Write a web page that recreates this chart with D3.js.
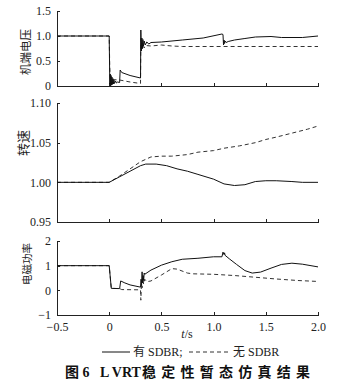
<!DOCTYPE html>
<html>
<head>
<meta charset="utf-8">
<script src="https://cdn.jsdelivr.net/npm/d3@7"></script>
<style>
  body { margin: 0; background: #fff; }
  svg { display: block; }
  .axis path, .axis line { stroke: #222; shape-rendering: crispEdges; }
  .axis text { font-family: "Liberation Serif", "Times New Roman", serif; font-size: 12px; fill: #222; }
  .cjk { font-family: "Noto Sans CJK SC", sans-serif; fill: #222; }
</style>
</head>
<body>
<svg id="chart" width="350" height="392"></svg>
<script>
"use strict";

// x-axis (time, s)
const xTicks = [ -0.5, 0, 0.5, 1.0, 1.5, 2.0 ];

// panel titles
const panelLabels = [ '机端电压', '转速', '电磁功率' ];

// y ticks per panel
const voltTicks  = [ 0, 0.5, 1.0, 1.5 ];
const speedTicks = [ 0.95, 1.00, 1.05, 1.10 ];
const powerTicks = [ -1, 0, 1, 2 ];

// legend
const seriesNames = [ '有 SDBR', '无 SDBR' ];

// terminal voltage [t, value]
const voltSolid = [
  [-0.5,1.0],[0,1.0],[0.003,0.5],[0.006,0.04],[0.01,0.24],[0.014,0.0],[0.018,0.21],[0.022,0.02],
  [0.026,0.18],[0.03,0.03],[0.035,0.15],[0.04,0.04],[0.045,0.12],[0.05,0.05],[0.06,0.1],[0.07,0.06],
  [0.08,0.08],[0.1,0.07],[0.105,0.32],[0.12,0.27],[0.2,0.21],[0.3,0.16],[0.303,1.12],[0.308,0.7],
  [0.313,0.96],[0.318,0.76],[0.323,0.93],[0.328,0.8],[0.335,0.9],[0.345,0.82],[0.36,0.88],[0.38,0.84],
  [0.4,0.87],[0.5,0.88],[0.7,0.92],[0.9,0.96],[1.08,1.04],[1.09,1.03],[1.095,0.82],[1.1,0.92],
  [1.105,0.85],[1.11,0.9],[1.12,0.87],[1.14,0.89],[1.2,0.92],[1.3,0.95],[1.4,0.98],[1.55,0.99],
  [1.65,0.97],[1.85,0.97],[2.0,1.0]
];
const voltDash = [
  [-0.5,1.0],[0,1.0],[0.005,0.4],[0.01,0.13],[0.1,0.12],[0.2,0.08],[0.3,0.05],[0.303,0.95],
  [0.308,0.7],[0.313,0.86],[0.318,0.74],[0.325,0.83],[0.335,0.76],[0.35,0.81],[0.4,0.8],[0.5,0.82],
  [0.6,0.8],[0.7,0.79],[2.0,0.79]
];

// rotor speed
const speedSolid = [
  [-0.5,1.0],[0,1.0],[0.1,1.007],[0.2,1.014],[0.3,1.021],[0.35,1.023],[0.45,1.023],[0.55,1.021],
  [0.65,1.017],[0.75,1.014],[0.85,1.01],[1.0,1.004],[1.1,0.998],[1.2,0.996],[1.3,0.997],[1.4,1.001],
  [1.5,1.002],[1.6,1.002],[1.75,1.001],[1.85,1.0],[2.0,1.0]
];
const speedDash = [
  [-0.5,1.0],[0,1.0],[0.1,1.008],[0.2,1.017],[0.3,1.026],[0.4,1.032],[0.5,1.033],[0.6,1.033],
  [0.75,1.035],[0.85,1.038],[1.0,1.04],[1.1,1.043],[1.25,1.046],[1.4,1.05],[1.5,1.054],[1.6,1.057],
  [1.75,1.062],[1.9,1.067],[2.0,1.071]
];

// electromagnetic power
const powerSolid = [
  [-0.5,1.0],[0,1.0],[0.02,0.08],[0.1,0.07],[0.11,0.38],[0.15,0.3],[0.2,0.22],[0.3,0.13],
  [0.305,0.45],[0.31,0.2],[0.315,0.75],[0.32,0.3],[0.325,0.6],[0.33,0.4],[0.335,0.7],[0.34,0.65],
  [0.4,0.82],[0.5,1.02],[0.6,1.16],[0.7,1.26],[0.85,1.3],[1.0,1.36],[1.08,1.36],[1.09,1.55],
  [1.1,1.45],[1.105,1.52],[1.11,1.42],[1.15,1.28],[1.22,1.05],[1.3,0.8],[1.37,0.7],[1.45,0.74],
  [1.55,0.9],[1.65,1.05],[1.75,1.1],[1.85,1.06],[2.0,0.95]
];
const powerDash = [
  [-0.5,1.0],[0,1.0],[0.02,0.08],[0.1,0.07],[0.12,0.03],[0.3,0.02],[0.303,-0.4],[0.31,0.4],
  [0.315,0.1],[0.32,0.5],[0.33,0.25],[0.34,0.45],[0.36,0.35],[0.4,0.38],[0.5,0.62],[0.6,0.88],
  [0.65,0.86],[0.75,0.7],[0.8,0.67],[1.0,0.65],[1.2,0.6],[1.4,0.53],[1.6,0.46],[1.8,0.4],[2.0,0.36]
];

const svg = d3.select('#chart');

// shared x scale
const x = d3.scaleLinear()
  .domain([ -0.5, 2.0 ])
  .range([ 57, 318 ]);

const panels = [
  { label: panelLabels[0], domain: [0, 1.5],     range: [86, 11],   ticks: voltTicks,
    fmt: (d) => d === 0 ? '0' : d3.format('.1f')(d), solid: voltSolid,  dash: voltDash,
    lx: 26, ly: 52, fs: 11.5, xLabels: false },
  { label: panelLabels[1], domain: [0.95, 1.10], range: [222, 103], ticks: speedTicks,
    fmt: d3.format('.2f'), solid: speedSolid, dash: speedDash,
    lx: 23, ly: 143, fs: 13, xLabels: false },
  { label: panelLabels[2], domain: [-1, 2],      range: [315, 241], ticks: powerTicks,
    fmt: d3.format('d'), solid: powerSolid, dash: powerDash,
    lx: 27, ly: 264, fs: 10.5, xLabels: true }
];

panels.forEach( (p) => {

  const y = d3.scaleLinear()
    .domain( p.domain )
    .range( p.range );

  const line = d3.line()
    .x( (d) => x( d[0] ) )
    .y( (d) => y( d[1] ) );

  // y-axis
  svg.append('g')
      .attr('class', 'axis')
      .attr('transform', 'translate(' + x.range()[0] + ',0)')
      .call( d3.axisLeft(y).tickValues(p.ticks).tickFormat(p.fmt)
               .tickSizeInner(-3).tickSizeOuter(0).tickPadding(6) );

  // x-axis
  svg.append('g')
      .attr('class', 'axis')
      .attr('transform', 'translate(0,' + p.range[0] + ')')
      .call( d3.axisBottom(x).tickValues(xTicks)
               .tickFormat( p.xLabels ? (d) => d === 0 ? '0' : d3.format('.1f')(d) : '' )
               .tickSizeInner(-3).tickSizeOuter(0).tickPadding(7) );

  // curves
  svg.append('path')
      .datum( p.dash )
      .attr('d', line)
      .attr('fill', 'none')
      .attr('stroke', '#333')
      .attr('stroke-width', 1)
      .attr('stroke-dasharray', '4,3');

  svg.append('path')
      .datum( p.solid )
      .attr('d', line)
      .attr('fill', 'none')
      .attr('stroke', '#111')
      .attr('stroke-width', 1);

  // panel label
  svg.append('text')
      .attr('class', 'cjk')
      .attr('transform', 'translate(' + p.lx + ',' + p.ly + ') rotate(-90)')
      .attr('text-anchor', 'middle')
      .attr('dy', '0.35em')
      .style('font-size', p.fs + 'px')
      .text( p.label );
});

// x-axis title
const xt = svg.append('text')
    .attr('x', 187)
    .attr('y', 338)
    .attr('text-anchor', 'middle')
    .style('font-family', '"Liberation Serif", serif')
    .style('font-size', '12px')
    .style('fill', '#222');
xt.append('tspan').style('font-style', 'italic').text('t');
xt.append('tspan').text('/s');

// legend
const legendY = 352;
svg.append('line')
    .attr('x1', 102).attr('x2', 130)
    .attr('y1', legendY).attr('y2', legendY)
    .attr('stroke', '#111');
svg.append('text')
    .attr('x', 133).attr('y', 356)
    .style('font-family', '"Liberation Serif", "Noto Sans CJK SC", serif')
    .style('font-size', '12px').style('fill', '#222')
    .text( seriesNames[0] + ';' );
svg.append('line')
    .attr('x1', 189).attr('x2', 230)
    .attr('y1', legendY).attr('y2', legendY)
    .attr('stroke', '#333')
    .attr('stroke-dasharray', '4,3');
svg.append('text')
    .attr('x', 233).attr('y', 356)
    .style('font-family', '"Liberation Serif", "Noto Sans CJK SC", serif')
    .style('font-size', '12px').style('fill', '#222')
    .text( seriesNames[1] );

// caption
const capStyle = (sel) => sel
    .attr('y', 377)
    .style('font-family', '"Liberation Serif", "Noto Sans CJK SC", serif')
    .style('font-size', '14px')
    .style('font-weight', 'bold')
    .style('fill', '#111');
svg.append('text').call(capStyle).attr('x', 65).text('图 6');
svg.append('text').call(capStyle).attr('x', 100).text('L VRT');
svg.append('text').call(capStyle).attr('x', 142)
    .attr('textLength', 168).attr('lengthAdjust', 'spacing')
    .text('稳定性暂态仿真结果');
</script>
</body>
</html>
